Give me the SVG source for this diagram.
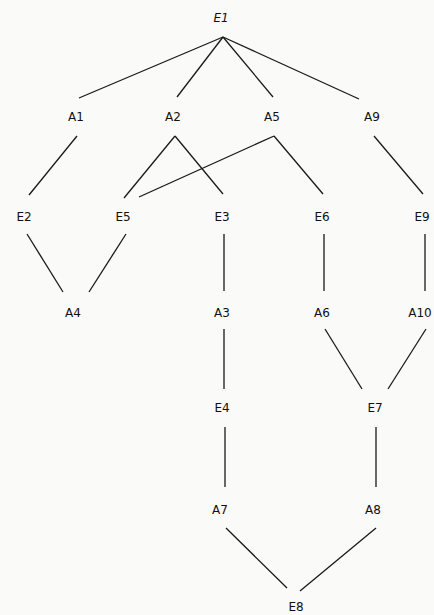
<svg xmlns="http://www.w3.org/2000/svg" width="434" height="615" viewBox="0 0 434 615">
<style>
text{font-family:"DejaVu Sans","Liberation Sans",sans-serif;font-size:12px;fill:#111;text-anchor:middle;dominant-baseline:central}
#edges line{stroke:#1a1a1a;stroke-width:1.3}
</style>
<rect width="434" height="615" fill="#fafaf8"/>
<g id="edges">
<line x1="223" y1="37" x2="79" y2="98"/>
<line x1="223" y1="37" x2="177" y2="97"/>
<line x1="223" y1="37" x2="273" y2="97"/>
<line x1="223" y1="37" x2="359" y2="99"/>
<line x1="77" y1="136" x2="29" y2="195"/>
<line x1="175" y1="136" x2="124" y2="198"/>
<line x1="175" y1="136" x2="223" y2="194"/>
<line x1="274" y1="136" x2="139" y2="197"/>
<line x1="274" y1="136" x2="323" y2="194"/>
<line x1="374" y1="136" x2="423" y2="194"/>
<line x1="27" y1="234" x2="63" y2="292"/>
<line x1="126" y1="234" x2="89" y2="292"/>
<line x1="224" y1="234" x2="224" y2="291"/>
<line x1="324" y1="234" x2="324" y2="291"/>
<line x1="425" y1="234" x2="425" y2="291"/>
<line x1="224" y1="329" x2="224" y2="389"/>
<line x1="325" y1="329" x2="362" y2="389"/>
<line x1="426" y1="329" x2="388" y2="389"/>
<line x1="225" y1="427" x2="225" y2="487"/>
<line x1="376" y1="427" x2="376" y2="487"/>
<line x1="226" y1="528" x2="287" y2="588"/>
<line x1="376" y1="528" x2="300" y2="591"/>
</g>
<g id="E1"><text x="221" y="18" font-style="italic">E1</text></g>
<g id="A1"><text x="76" y="117">A1</text></g>
<g id="A2"><text x="173" y="117">A2</text></g>
<g id="A5"><text x="272" y="117">A5</text></g>
<g id="A9"><text x="372" y="117">A9</text></g>
<g id="E2"><text x="24" y="217">E2</text></g>
<g id="E5"><text x="123" y="217">E5</text></g>
<g id="E3"><text x="222" y="217">E3</text></g>
<g id="E6"><text x="322" y="217">E6</text></g>
<g id="E9"><text x="422" y="217">E9</text></g>
<g id="A4"><text x="73" y="313">A4</text></g>
<g id="A3"><text x="222" y="313">A3</text></g>
<g id="A6"><text x="322" y="313">A6</text></g>
<g id="A10"><text x="420" y="313">A10</text></g>
<g id="E4"><text x="222" y="408">E4</text></g>
<g id="E7"><text x="375" y="408">E7</text></g>
<g id="A7"><text x="220" y="510">A7</text></g>
<g id="A8"><text x="373" y="510">A8</text></g>
<g id="E8"><text x="296" y="607">E8</text></g>
</svg>
